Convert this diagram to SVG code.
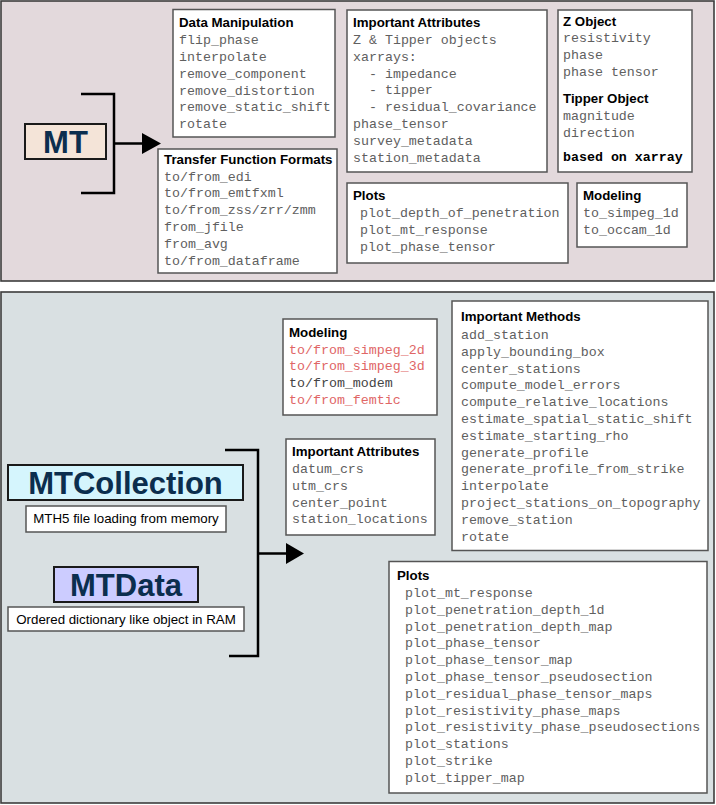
<svg xmlns="http://www.w3.org/2000/svg" width="716" height="805" viewBox="0 0 716 805">
<defs>
<style>
.panel{stroke:#3c3c3c;stroke-width:1.6}
.box{fill:#ffffff;stroke:#555555;stroke-width:1.5}
.cls{stroke:#1a1a1a;stroke-width:2}
.ttl{font-family:"Liberation Sans",Arial,sans-serif;font-weight:bold;font-size:13.3px;fill:#000}
.mono{font-family:"Liberation Mono","Courier New",monospace;font-size:13.3px;fill:#606060}
.red{fill:#e06666}
.dark{fill:#444444}
.bmono{font-family:"Liberation Mono","Courier New",monospace;font-size:13.3px;font-weight:bold;fill:#000}
.big{font-family:"Liberation Sans",Arial,sans-serif;font-weight:bold;font-size:31px;fill:#0b2e4e;text-anchor:middle}
.desc{font-family:"Liberation Sans",Arial,sans-serif;font-size:13.3px;fill:#000;text-anchor:middle}
.wire{fill:none;stroke:#000;stroke-width:2.5}
</style>
</defs>

<rect class="panel" x="1" y="1" width="713" height="280" fill="#e3d9dc"/>
<rect class="panel" x="1" y="292" width="713" height="511" fill="#d9e0e2"/>

<g id="connectors">
<path class="wire" d="M81,94 H114 V193 H81 M114,143.5 H143"/>
<polygon points="142,133 161,143.5 142,154" fill="#000"/>
<path class="wire" d="M225,450 H258 V656 H229 M258,553.5 H287"/>
<polygon points="286,543 304,553.5 286,564" fill="#000"/>
</g>

<g id="mt">
<rect class="cls" x="25" y="124" width="81" height="35" fill="#f4e4d8"/>
<text class="big" x="65.5" y="152.5">MT</text>
</g>

<g id="data-manipulation">
<rect class="box" x="173" y="9.5" width="162" height="127.5"/>
<text class="ttl" x="179" y="27">Data Manipulation</text>
<text class="mono" x="179" y="44">flip_phase</text>
<text class="mono" x="179" y="61">interpolate</text>
<text class="mono" x="179" y="77.8">remove_component</text>
<text class="mono" x="179" y="94.6">remove_distortion</text>
<text class="mono" x="179" y="111.4">remove_static_shift</text>
<text class="mono" x="179" y="128.2">rotate</text>
</g>

<g id="transfer-function-formats">
<rect class="box" x="158" y="149" width="179" height="124"/>
<text class="ttl" x="164" y="164">Transfer Function Formats</text>
<text class="mono" x="164" y="180.5">to/from_edi</text>
<text class="mono" x="164" y="197.3">to/from_emtfxml</text>
<text class="mono" x="164" y="214.1">to/from_zss/zrr/zmm</text>
<text class="mono" x="164" y="230.9">from_jfile</text>
<text class="mono" x="164" y="247.7">from_avg</text>
<text class="mono" x="164" y="264.5">to/from_dataframe</text>
</g>

<g id="mt-important-attributes">
<rect class="box" x="347" y="10" width="200" height="162"/>
<text class="ttl" x="353" y="27">Important Attributes</text>
<text class="mono" x="353" y="44">Z &amp; Tipper objects</text>
<text class="mono" x="353" y="60.8">xarrays:</text>
<text class="mono" x="369" y="77.6">- impedance</text>
<text class="mono" x="369" y="94.4">- tipper</text>
<text class="mono" x="369" y="111.2">- residual_covariance</text>
<text class="mono" x="353" y="128">phase_tensor</text>
<text class="mono" x="353" y="144.8">survey_metadata</text>
<text class="mono" x="353" y="161.6">station_metadata</text>
</g>

<g id="z-object">
<rect class="box" x="558" y="10" width="134" height="162"/>
<text class="ttl" x="563" y="25.5">Z Object</text>
<text class="mono" x="563" y="42">resistivity</text>
<text class="mono" x="563" y="58.8">phase</text>
<text class="mono" x="563" y="75.6">phase tensor</text>
<text class="ttl" x="563" y="103">Tipper Object</text>
<text class="mono" x="563" y="120">magnitude</text>
<text class="mono" x="563" y="136.8">direction</text>
<text class="bmono" x="563" y="161">based on xarray</text>
</g>

<g id="mt-plots">
<rect class="box" x="347" y="183" width="221" height="80"/>
<text class="ttl" x="353" y="200">Plots</text>
<text class="mono" x="360" y="217">plot_depth_of_penetration</text>
<text class="mono" x="360" y="233.8">plot_mt_response</text>
<text class="mono" x="360" y="250.6">plot_phase_tensor</text>
</g>

<g id="mt-modeling">
<rect class="box" x="577" y="183" width="110" height="64"/>
<text class="ttl" x="583" y="200">Modeling</text>
<text class="mono" x="583" y="217">to_simpeg_1d</text>
<text class="mono" x="583" y="233.8">to_occam_1d</text>
</g>

<g id="mtcollection">
<rect class="cls" x="8" y="465" width="235" height="35" fill="#d5f5fd"/>
<text class="big" x="125.5" y="493.5">MTCollection</text>
<rect class="box" x="26" y="506" width="200" height="26"/>
<text class="desc" x="126" y="523">MTH5 file loading from memory</text>
</g>

<g id="mtdata">
<rect class="cls" x="54" y="567" width="144" height="35" fill="#ccccff"/>
<text class="big" x="126" y="595.5">MTData</text>
<rect class="box" x="8" y="607" width="236" height="24"/>
<text class="desc" x="126" y="624">Ordered dictionary like object in RAM</text>
</g>

<g id="collection-modeling">
<rect class="box" x="283" y="319" width="154" height="96"/>
<text class="ttl" x="289" y="337">Modeling</text>
<text class="mono red" x="289" y="353.5">to/from_simpeg_2d</text>
<text class="mono red" x="289" y="370.3">to/from_simpeg_3d</text>
<text class="mono dark" x="289" y="387.1">to/from_modem</text>
<text class="mono red" x="289" y="403.9">to/from_femtic</text>
</g>

<g id="collection-important-attributes">
<rect class="box" x="286" y="439" width="149" height="96"/>
<text class="ttl" x="292" y="456">Important Attributes</text>
<text class="mono" x="292" y="473">datum_crs</text>
<text class="mono" x="292" y="489.8">utm_crs</text>
<text class="mono" x="292" y="506.6">center_point</text>
<text class="mono" x="292" y="523.4">station_locations</text>
</g>

<g id="important-methods">
<rect class="box" x="452" y="301" width="256" height="249.5"/>
<text class="ttl" x="461" y="321">Important Methods</text>
<text class="mono" x="461" y="339">add_station</text>
<text class="mono" x="461" y="355.8">apply_bounding_box</text>
<text class="mono" x="461" y="372.6">center_stations</text>
<text class="mono" x="461" y="389.4">compute_model_errors</text>
<text class="mono" x="461" y="406.2">compute_relative_locations</text>
<text class="mono" x="461" y="423">estimate_spatial_static_shift</text>
<text class="mono" x="461" y="439.8">estimate_starting_rho</text>
<text class="mono" x="461" y="456.6">generate_profile</text>
<text class="mono" x="461" y="473.4">generate_profile_from_strike</text>
<text class="mono" x="461" y="490.2">interpolate</text>
<text class="mono" x="461" y="507">project_stations_on_topography</text>
<text class="mono" x="461" y="523.8">remove_station</text>
<text class="mono" x="461" y="540.6">rotate</text>
</g>

<g id="collection-plots">
<rect class="box" x="389" y="561.5" width="318" height="231.5"/>
<text class="ttl" x="397" y="580">Plots</text>
<text class="mono" x="405" y="597">plot_mt_response</text>
<text class="mono" x="405" y="613.8">plot_penetration_depth_1d</text>
<text class="mono" x="405" y="630.6">plot_penetration_depth_map</text>
<text class="mono" x="405" y="647.4">plot_phase_tensor</text>
<text class="mono" x="405" y="664.2">plot_phase_tensor_map</text>
<text class="mono" x="405" y="681">plot_phase_tensor_pseudosection</text>
<text class="mono" x="405" y="697.8">plot_residual_phase_tensor_maps</text>
<text class="mono" x="405" y="714.6">plot_resistivity_phase_maps</text>
<text class="mono" x="405" y="731.4">plot_resistivity_phase_pseudosections</text>
<text class="mono" x="405" y="748.2">plot_stations</text>
<text class="mono" x="405" y="765">plot_strike</text>
<text class="mono" x="405" y="781.8">plot_tipper_map</text>
</g>
</svg>
